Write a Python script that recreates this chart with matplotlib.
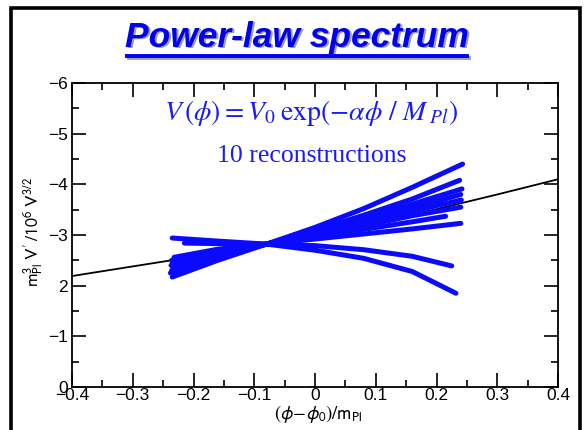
import matplotlib
matplotlib.use("Agg")
import matplotlib.pyplot as plt
from matplotlib.patches import Rectangle
from matplotlib.lines import Line2D
from matplotlib.ticker import MultipleLocator

# ---- data ----
ref_x = [-0.4, -0.3, -0.2, -0.1, 0.0, 0.1, 0.2, 0.3, 0.4]
ref_v = [2.19, 2.38, 2.57, 2.78, 3.00, 3.25, 3.51, 3.80, 4.10]

recon_start = [-0.235, -0.238, -0.236, -0.234, -0.237, -0.235, -0.236, -0.232, -0.215, -0.235]
recon_end   = [0.243, 0.238, 0.242, 0.240, 0.241, 0.240, 0.215, 0.240, 0.225, 0.232]
recon_mid_x = [-0.16, -0.08, 0.0, 0.08, 0.16]
recon_left  = [2.17, 2.25, 2.30, 2.35, 2.40, 2.45, 2.50, 2.56, 2.84, 2.94]
recon_mid   = [
    [2.50, 2.82, 3.15, 3.52, 3.94],
    [2.56, 2.82, 3.09, 3.39, 3.71],
    [2.59, 2.82, 3.06, 3.32, 3.61],
    [2.61, 2.82, 3.04, 3.28, 3.53],
    [2.63, 2.82, 3.02, 3.24, 3.47],
    [2.65, 2.82, 2.99, 3.18, 3.38],
    [2.68, 2.82, 2.96, 3.11, 3.26],
    [2.72, 2.82, 2.92, 3.02, 3.12],
    [2.83, 2.82, 2.79, 2.71, 2.58],
    [2.88, 2.82, 2.70, 2.54, 2.28],
]
recon_right = [4.40, 4.08, 3.91, 3.80, 3.69, 3.55, 3.37, 3.23, 2.39, 1.85]

ytick_vals = [0, 1, 2, 3, 4, 5, 6]
ytick_labels = ["0", "\u22121", "2", "\u22123", "\u22124", "\u22125", "\u22126"]
xtick_vals = [-0.4, -0.3, -0.2, -0.1, 0.0, 0.1, 0.2, 0.3, 0.4]
xtick_labels = ["\u22120.4", "\u22120.3", "\u22120.2", "\u22120.1", "0", "0.1", "0.2", "0.3", "0.4"]

W, H = 586, 430
def fx(x): return x / W
def fy(y): return 1 - y / H

plt.rcParams['font.family'] = ['Liberation Sans', 'DejaVu Sans']
plt.rcParams['mathtext.fontset'] = 'stixsans'

fig = plt.figure(figsize=(W / 100, H / 100), dpi=100)
fig.patch.set_facecolor('white')

ax = fig.add_axes([fx(72), fy(387), (558 - 72) / W, (387 - 83) / H])

ax.plot(ref_x, ref_v, color='black', lw=1.3, zorder=2)
for i in range(len(recon_left)):
    xs = [recon_start[i]] + recon_mid_x + [recon_end[i]]
    vs = [recon_left[i]] + recon_mid[i] + [recon_right[i]]
    ax.plot(xs, vs, color='#0a0aff', lw=3.6, solid_capstyle='round',
            solid_joinstyle='round', zorder=3)

ax.set_xlim(-0.4, 0.4)
ax.set_ylim(0, 6)
ax.set_xticks(xtick_vals)
ax.set_xticklabels(xtick_labels)
ax.set_yticks(ytick_vals)
ax.set_yticklabels(ytick_labels)
ax.xaxis.set_minor_locator(MultipleLocator(0.05))
ax.yaxis.set_minor_locator(MultipleLocator(0.5))
ax.tick_params(which='both', direction='in', top=True, right=True, labelsize=12.5, width=1.2)
ax.tick_params(which='major', length=10)
ax.tick_params(which='minor', length=5)
ax.tick_params(axis='x', pad=1)
ax.tick_params(axis='y', pad=3)
for s in ax.spines.values():
    s.set_linewidth(1.3)

fig.text(fx(318), fy(414), r'$(\phi\!-\!\phi_0)/\mathrm{m}_{\mathrm{Pl}}$', ha='center', va='center', fontsize=13.5)
fig.text(fx(33), fy(232), r"$\mathrm{m}_{\mathrm{Pl}}^{3}\ \mathrm{V}'\,/10^{6}\ \mathrm{V}^{3/2}$",
         ha='center', va='center', rotation=90, fontsize=13)

# annotations
fig.text(fx(311), fy(113), r'$V\,(\phi) = V_0\;\mathrm{exp}\left(-\alpha\phi\ /\ M_{\;Pl}\right)$',
         ha='center', va='center', fontsize=20, color='#1a1aff', math_fontfamily='stix')
fig.text(fx(312), fy(156), '10 reconstructions', ha='center', va='center', fontsize=18.5,
         color='#1a1aff', family=['Liberation Serif', 'DejaVu Serif'])

# title with shadow and underline
for dx, dy, col, z in [(1.5, 1.5, '#a0a0a0', 1), (0, 0, '#0000ee', 2)]:
    fig.text(fx(297 + dx), fy(37 + dy), 'Power-law spectrum', ha='center', va='center',
             fontsize=25.5, fontweight='bold', fontstyle='italic', color=col, zorder=z)
    fig.add_artist(Line2D([fx(127 + dx), fx(467 + dx)], [fy(56 + dy)] * 2, color=col, lw=2.8, zorder=z))

# slide frame
fig.add_artist(Rectangle((fx(11), fy(440)), (580 - 11) / W, (440 - 8) / H, fill=False,
                         edgecolor='black', lw=2.6, transform=fig.transFigure, clip_on=False))

fig.savefig('out.png', dpi=100, facecolor='white')
